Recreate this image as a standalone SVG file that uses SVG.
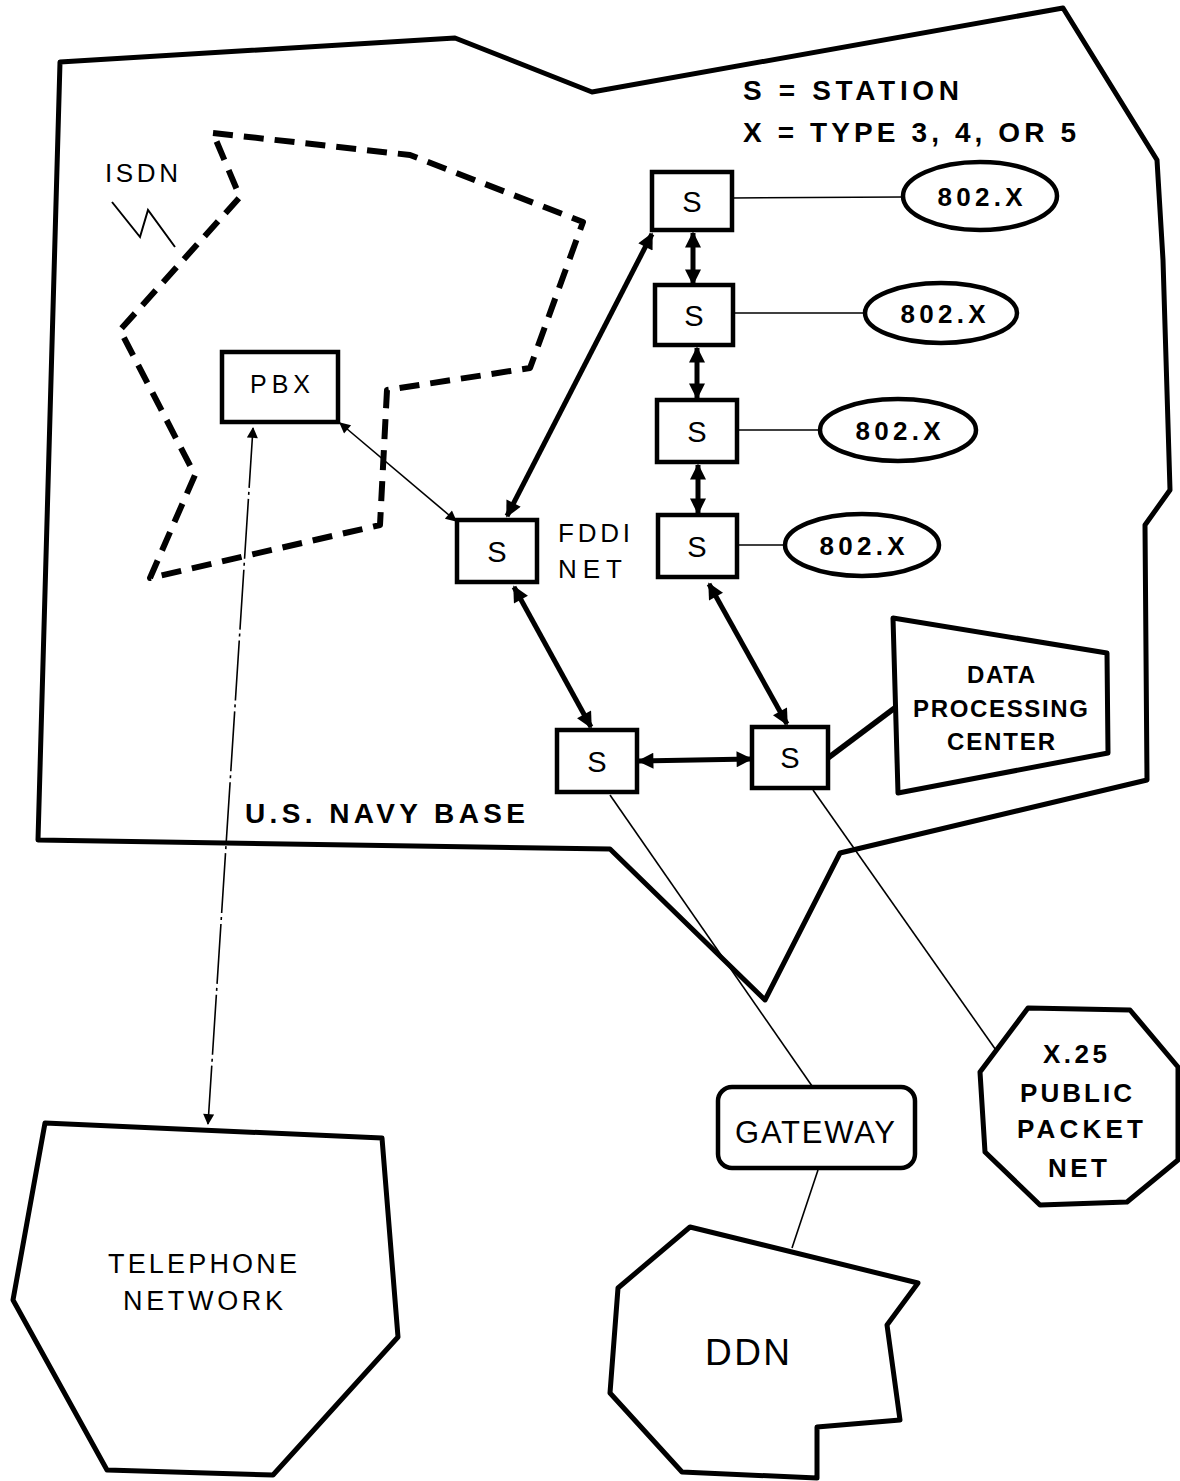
<svg xmlns="http://www.w3.org/2000/svg" width="1180" height="1481" viewBox="0 0 1180 1481">
<style>
  text { font-family: "Liberation Sans", Arial, sans-serif; fill: #000; font-weight: bold; }
  .outline { fill: none; stroke: #000; stroke-width: 5; stroke-linejoin: round; }
  .box { fill: #fff; stroke: #000; stroke-width: 4.5; }
  .shape { fill: #fff; stroke: #000; stroke-width: 5; stroke-linejoin: round; }
  .isdn { fill: none; stroke: #000; stroke-width: 6; stroke-dasharray: 20 11; stroke-linejoin: round; }
  .thick { stroke: #000; stroke-width: 5; fill: none; }
  .thin { stroke: #000; stroke-width: 1.6; fill: none; }
  .st { font-size: 29px; text-anchor: middle; font-weight: normal; }
  .ell { font-size: 26px; text-anchor: middle; }
  .light { font-weight: normal; }
</style>
<defs>
  <marker id="ah" viewBox="0 0 10 10" refX="9" refY="5" markerWidth="20" markerHeight="16" markerUnits="userSpaceOnUse" orient="auto-start-reverse">
    <path d="M0,0 L10,5 L0,10 z" fill="#000"/>
  </marker>
  <marker id="ahs" viewBox="0 0 10 10" refX="9" refY="5" markerWidth="15" markerHeight="11" markerUnits="userSpaceOnUse" orient="auto-start-reverse">
    <path d="M0,0 L10,5 L0,10 z" fill="#000"/>
  </marker>
</defs>
<rect width="1180" height="1481" fill="#fff"/>

<g id="navy-base">
  <polygon class="outline" points="60,62 455,38 592,92 1063,8 1157,160 1163,260 1170,490 1145,525 1147,780 840,853 765,1000 610,849 38,840"/>
  <text x="245" y="823" font-size="28" textLength="280">U.S. NAVY BASE</text>
</g>

<g id="legend">
  <text x="743" y="100" font-size="28" textLength="216">S = STATION</text>
  <text x="743" y="142" font-size="28" textLength="333">X = TYPE 3, 4, OR 5</text>
</g>

<g id="isdn">
  <polygon class="isdn" points="213,133 410,155 583,222 530,368 387,390 380,525 150,578 195,475 120,330 240,197"/>
  <text x="105" y="182" font-size="26" textLength="73" class="light">ISDN</text>
  <polyline points="112,202 140,237 148,210 175,247" fill="none" stroke="#000" stroke-width="2"/>
</g>

<g id="connectors">
  <line class="thin" x1="340" y1="423" x2="456" y2="521" marker-start="url(#ahs)" marker-end="url(#ahs)"/>
  <line class="thin" x1="253" y1="428" x2="208" y2="1124" stroke-dasharray="60 4 3 4" marker-start="url(#ahs)" marker-end="url(#ahs)"/>
  <line class="thick" x1="507" y1="516" x2="652" y2="234" marker-start="url(#ah)" marker-end="url(#ah)"/>
  <line class="thick" x1="693" y1="233" x2="693" y2="284" marker-start="url(#ah)" marker-end="url(#ah)"/>
  <line class="thick" x1="697" y1="348" x2="697" y2="398" marker-start="url(#ah)" marker-end="url(#ah)"/>
  <line class="thick" x1="698" y1="465" x2="698" y2="513" marker-start="url(#ah)" marker-end="url(#ah)"/>
  <line class="thick" x1="514" y1="587" x2="591" y2="727" marker-start="url(#ah)" marker-end="url(#ah)"/>
  <line class="thick" x1="709" y1="584" x2="787" y2="724" marker-start="url(#ah)" marker-end="url(#ah)"/>
  <line class="thick" x1="639" y1="761" x2="751" y2="759" marker-start="url(#ah)" marker-end="url(#ah)"/>
  <line class="thin" x1="732" y1="198" x2="903" y2="197"/>
  <line class="thin" x1="733" y1="313" x2="865" y2="313"/>
  <line class="thin" x1="737" y1="430" x2="820" y2="430"/>
  <line class="thin" x1="737" y1="545" x2="785" y2="545"/>
  <line x1="828" y1="758" x2="896" y2="707" stroke="#000" stroke-width="5.5"/>
  <line class="thin" x1="610" y1="795" x2="812" y2="1086"/>
  <line class="thin" x1="818" y1="1170" x2="792" y2="1248"/>
  <line class="thin" x1="813" y1="790" x2="998" y2="1053"/>
</g>

<g id="pbx">
  <rect class="box" x="222" y="352" width="116" height="70"/>
  <text x="250" y="393" font-size="25" textLength="60" class="light">PBX</text>
</g>

<g id="s-fddi">
  <rect class="box" x="457" y="520" width="80" height="62"/>
  <text class="st" x="497" y="562">S</text>
</g>
<g id="fddi-label">
  <text x="558" y="542" font-size="26" textLength="72" class="light">FDDI</text>
  <text x="558" y="578" font-size="26" textLength="64" class="light">NET</text>
</g>

<g id="s1">
  <rect class="box" x="652" y="172" width="80" height="58"/>
  <text class="st" x="692" y="212">S</text>
</g>
<g id="s2">
  <rect class="box" x="655" y="285" width="78" height="60"/>
  <text class="st" x="694" y="326">S</text>
</g>
<g id="s3">
  <rect class="box" x="657" y="400" width="80" height="62"/>
  <text class="st" x="697" y="442">S</text>
</g>
<g id="s4">
  <rect class="box" x="658" y="515" width="79" height="62"/>
  <text class="st" x="697" y="557">S</text>
</g>
<g id="s5">
  <rect class="box" x="557" y="730" width="80" height="62"/>
  <text class="st" x="597" y="772">S</text>
</g>
<g id="s6">
  <rect class="box" x="752" y="727" width="76" height="61"/>
  <text class="st" x="790" y="768">S</text>
</g>

<g id="lan1">
  <ellipse class="box" cx="980" cy="196" rx="77" ry="34"/>
  <text class="ell" x="980" y="206" textLength="85">802.X</text>
</g>
<g id="lan2">
  <ellipse class="box" cx="941" cy="313" rx="76" ry="30"/>
  <text class="ell" x="943" y="323" textLength="85">802.X</text>
</g>
<g id="lan3">
  <ellipse class="box" cx="898" cy="430" rx="78" ry="31"/>
  <text class="ell" x="898" y="440" textLength="85">802.X</text>
</g>
<g id="lan4">
  <ellipse class="box" cx="862" cy="545" rx="77" ry="31"/>
  <text class="ell" x="862" y="555" textLength="85">802.X</text>
</g>

<g id="dpc">
  <polygon class="shape" points="893,618 1107,653 1108,753 898,793"/>
  <text x="967" y="683" font-size="24" textLength="68">DATA</text>
  <text x="913" y="717" font-size="24" textLength="175">PROCESSING</text>
  <text x="947" y="750" font-size="24" textLength="108">CENTER</text>
</g>

<g id="telephone">
  <polygon class="shape" points="45,1123 382,1138 398,1337 273,1475 107,1470 13,1300"/>
  <text x="108" y="1273" font-size="27" textLength="189" class="light">TELEPHONE</text>
  <text x="123" y="1310" font-size="27" textLength="160" class="light">NETWORK</text>
</g>

<g id="gateway">
  <rect class="box" x="718" y="1087" width="197" height="81" rx="14"/>
  <text x="735" y="1143" font-size="31" textLength="160" class="light">GATEWAY</text>
</g>

<g id="ddn">
  <polygon class="shape" points="690,1227 918,1283 887,1325 900,1420 817,1427 817,1478 682,1472 610,1393 618,1288"/>
  <text x="705" y="1365" font-size="37" textLength="85" class="light">DDN</text>
</g>

<g id="x25">
  <polygon class="shape" points="1028,1008 1130,1010 1178,1067 1178,1160 1127,1202 1040,1205 985,1152 980,1072"/>
  <text x="1043" y="1063" font-size="26" textLength="64">X.25</text>
  <text x="1020" y="1102" font-size="26" textLength="112">PUBLIC</text>
  <text x="1017" y="1138" font-size="26" textLength="126">PACKET</text>
  <text x="1048" y="1177" font-size="26" textLength="59">NET</text>
</g>
</svg>
